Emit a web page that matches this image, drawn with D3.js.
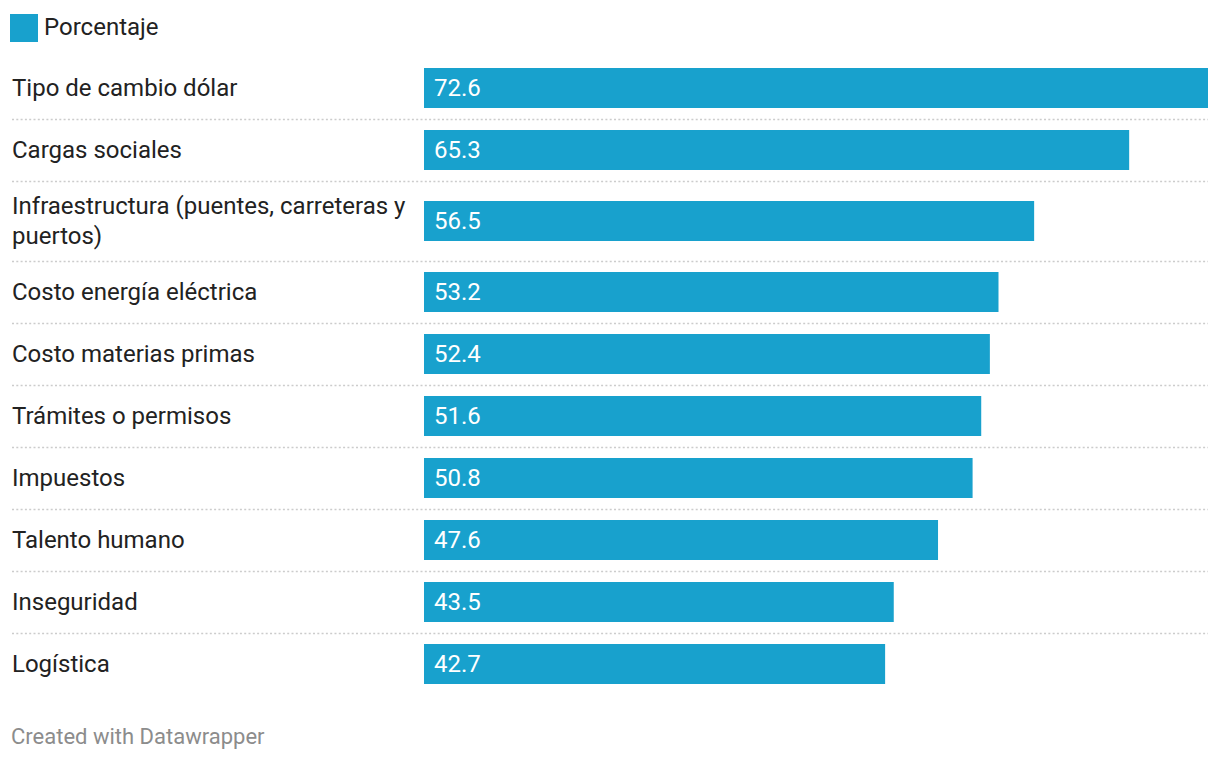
<!DOCTYPE html>
<html><head><meta charset="utf-8">
<script src="https://cdn.jsdelivr.net/npm/d3@7"></script>
<style>
html,body{margin:0;padding:0;background:#fff;}
svg{display:block;font-family:Roboto, "Noto Sans", sans-serif;}
</style></head>
<body>
<svg id="chart" width="1220" height="760"></svg>
<script>
const categories = ["Tipo de cambio dólar","Cargas sociales","Infraestructura (puentes, carreteras y puertos)","Costo energía eléctrica","Costo materias primas","Trámites o permisos","Impuestos","Talento humano","Inseguridad","Logística"];
const values = [72.6,65.3,56.5,53.2,52.4,51.6,50.8,47.6,43.5,42.7];
const seriesName = "Porcentaje";
const footer = "Created with Datawrapper";

const color = "#18a1cd";
const svg = d3.select("#chart");

// legend
const lg = svg.append("g");
lg.append("rect").attr("x",10).attr("y",14).attr("width",28).attr("height",28).attr("fill",color);
lg.append("text").attr("x",44).attr("y",35).attr("font-size",24).attr("fill","#222").text(seriesName);

const x = d3.scaleLinear().domain([0, d3.max(values)]).range([424, 1208]);
const labelW = 405, fs = 24, lineH = 30;

// wrap labels
const g = svg.append("g");
const rows = categories.map((c,i)=>({c, v: values[i]}));
const measure = svg.append("text").attr("font-size",fs).attr("visibility","hidden");
rows.forEach(r=>{
  const words = r.c.split(" ");
  const lines = []; let cur = "";
  words.forEach(w=>{
    const t = cur ? cur+" "+w : w;
    measure.text(t);
    if (measure.node().getComputedTextLength() > labelW && cur){ lines.push(cur); cur = w; }
    else cur = t;
  });
  lines.push(cur);
  r.lines = lines;
  r.h = 62 + (lines.length-1)*18;
});
measure.remove();

let y0 = 57;
rows.forEach((r,i)=>{
  r.top = y0; r.mid = y0 + r.h/2; y0 += r.h;
});

const row = g.selectAll("g.row").data(rows).join("g").attr("class","row");
row.append("rect")
  .attr("x", x(0)).attr("y", d=>d.mid-20).attr("height",40)
  .attr("width", d=>x(d.v)-x(0)).attr("fill",color);
row.append("text")
  .attr("x", x(0)+10).attr("y", d=>d.mid).attr("dy","0.35em")
  .attr("font-size",fs).attr("fill","#fff").text(d=>d3.format(".1f")(d.v));
row.each(function(d){
  const t = d3.select(this).append("text").attr("font-size",fs).attr("fill","#222");
  const n = d.lines.length;
  d.lines.forEach((l,k)=>{
    t.append("tspan").attr("x",12).attr("y", d.mid + (k-(n-1)/2)*lineH).attr("dy","0.35em").text(l);
  });
});
row.filter((d,i)=>i<rows.length-1).append("line")
  .attr("x1",12).attr("x2",1208)
  .attr("y1", d=>d.top+d.h+0.5).attr("y2", d=>d.top+d.h+0.5)
  .attr("stroke","#cccccc").attr("stroke-width",1.5).attr("stroke-dasharray","2,2.3");

svg.append("text").attr("x",11).attr("y",744).attr("font-size",22).attr("fill","#8c8c8c").text(footer);
</script>
</body></html>
